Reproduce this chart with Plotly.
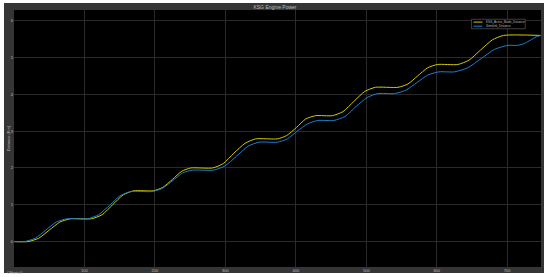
import plotly.graph_objects as go

# (x in s, y in km)
ksg_x = [0, 20, 35, 50, 65, 80, 110, 125, 140, 155, 170, 198, 211, 225, 238, 251, 282,
         297, 312, 328, 343, 374, 387, 401, 414, 428, 452, 467, 482, 498, 513, 545,
         559, 573, 587, 601, 630, 646, 662, 679, 695, 748]
ksg_y = [0, 0, 0.09, 0.31, 0.53, 0.62, 0.62, 0.73, 1.0, 1.27, 1.38, 1.38, 1.47, 1.69, 1.91, 2.0, 2.0,
         2.12, 2.40, 2.67, 2.79, 2.79, 2.88, 3.10, 3.33, 3.42, 3.42, 3.53, 3.80, 4.08, 4.19, 4.19,
         4.28, 4.50, 4.72, 4.81, 4.81, 4.93, 5.20, 5.48, 5.60, 5.60]

sim_x = [0, 15, 30, 45, 60, 75, 105, 120, 136, 151, 166, 196, 210, 225, 239, 253, 283,
         299, 316, 332, 348, 374, 388, 402, 417, 431, 454, 470, 485, 501, 516, 540,
         556, 572, 587, 603, 625, 644, 663, 682, 701, 715, 724, 733, 741, 748]
sim_y = [0, 0, 0.09, 0.31, 0.53, 0.62, 0.62, 0.73, 0.99, 1.25, 1.36, 1.36, 1.44, 1.65, 1.86, 1.94, 1.94,
         2.05, 2.32, 2.59, 2.70, 2.70, 2.79, 3.00, 3.20, 3.29, 3.29, 3.40, 3.66, 3.91, 4.02, 4.02,
         4.11, 4.32, 4.52, 4.61, 4.61, 4.72, 4.97, 5.22, 5.33, 5.33, 5.38, 5.47, 5.56, 5.60]

x_ticks = [100, 200, 300, 400, 500, 600, 700]
y_ticks = [0, 1, 2, 3, 4, 5, 6]

names = ["KSG_Active_Mode_Distance", "Simulink_Distance"]
colors = ["#d0cc00", "#1f80cc"]

FRAME = "#353535"
GRID = "#2a2a2a"
TXT = "#bdbdbd"

fig = go.Figure()
for xs, ys, nm, c in [(ksg_x, ksg_y, names[0], colors[0]), (sim_x, sim_y, names[1], colors[1])]:
    fig.add_trace(go.Scatter(x=xs, y=ys, name=nm, mode="lines",
                             line=dict(color=c, width=1, shape="spline", smoothing=0.6)))

# grey scope frame + black axes background
fig.add_shape(type="rect", xref="paper", yref="paper", x0=-0.019, x1=1.0057, y0=-0.023, y1=1.027,
              fillcolor=FRAME, line_width=0, layer="below")
fig.add_shape(type="rect", xref="paper", yref="paper", x0=0, x1=1, y0=0, y1=1,
              fillcolor="black", line_width=0, layer="below")

# compact scope-style legend (plotly's own legend rows are too tall at this size)
fig.add_shape(type="rect", xref="paper", yref="paper", x0=0.868, x1=0.970, y0=0.927, y1=0.964,
              fillcolor="black", line=dict(color="#6a6a6a", width=0.6))
for i, (nm, c) in enumerate(zip(names, colors)):
    yy = 0.953 - i * 0.016
    fig.add_shape(type="line", xref="paper", yref="paper", x0=0.872, x1=0.889, y0=yy, y1=yy,
                  line=dict(color=c, width=1))
    fig.add_annotation(text=nm, xref="paper", yref="paper", x=0.892, y=yy, xanchor="left",
                       yanchor="middle", showarrow=False, font=dict(size=3, color=TXT))

fig.add_annotation(text="Offset=0", xref="paper", yref="paper", x=-0.017, y=-0.004,
                   xanchor="left", yanchor="top", showarrow=False,
                   font=dict(size=4, color=TXT))

fig.update_layout(
    width=550, height=277,
    margin=dict(l=14, r=9, t=10, b=10),
    paper_bgcolor="white", plot_bgcolor="black",
    font=dict(family="Liberation Sans, Arial", color=TXT, size=4),
    title=dict(text="KSG Engine Power", x=0.5, xanchor="center", y=0.975, yanchor="middle",
               font=dict(size=5, color=TXT)),
    showlegend=False,
)
fig.update_xaxes(range=[0, 748], tickvals=x_ticks, showgrid=True, gridcolor=GRID, gridwidth=1,
                 zeroline=False, showline=False, ticks="", tickfont=dict(size=4, color=TXT),
                 ticklabelstandoff=0, automargin=False)
fig.update_yaxes(range=[-0.69, 6.29], tickvals=y_ticks, showgrid=True, gridcolor=GRID, gridwidth=1,
                 zeroline=False, showline=False, ticks="", tickfont=dict(size=4, color=TXT),
                 ticklabelstandoff=0, automargin=False,
                 title=dict(text="Distance (Km)", font=dict(size=4, color=TXT), standoff=0))

# drop the browser's default body margin so the figure sits at the page corner
fig.write_html("out.html", config={"displayModeBar": False},
               post_script="document.body.style.margin='0';")
